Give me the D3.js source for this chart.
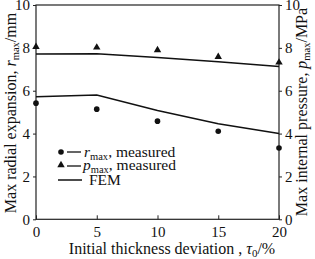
<!DOCTYPE html>
<html>
<head>
<meta charset="utf-8">
<script src="https://cdn.jsdelivr.net/npm/d3@7"></script>
<style>
  body { margin: 0; background: #fff; }
</style>
</head>
<body>
<div id="chart"></div>
<script>
// values
var tau = [0, 5, 10, 15, 20];
var rMeasured = [5.42, 5.14, 4.58, 4.11, 3.33];
var pMeasured = [8.05, 8.02, 7.9, 7.58, 7.32];
var rFem = [5.72, 5.8, 5.08, 4.46, 4.0];
var pFem = [7.71, 7.72, 7.55, 7.35, 7.13];
var xTicks = [0, 5, 10, 15, 20];
var yTicks = [0, 2, 4, 6, 8, 10];

var margin = {top: 5, right: 36, bottom: 40, left: 36},
    width = 315 - margin.left - margin.right,
    height = 214.3;

var svg = d3.select("#chart").append("svg")
    .attr("width", 315)
    .attr("height", 259);

var g = svg.append("g")
    .attr("transform", "translate(" + margin.left + "," + margin.top + ")");

var x = d3.scaleLinear().domain([0, 20]).range([0, width]);
var yL = d3.scaleLinear().domain([0, 10]).range([height, 0]);
var yR = d3.scaleLinear().domain([0, 10]).range([height, 0]);

// frame
g.append("rect")
    .attr("width", width).attr("height", height)
    .attr("fill", "none").attr("stroke", "#222").attr("stroke-width", 1.2);

var xAxis = d3.axisBottom(x).tickValues(xTicks).tickSizeInner(-4).tickSizeOuter(0).tickPadding(7);
var yAxisL = d3.axisLeft(yL).tickValues(yTicks).tickSize(3).tickPadding(3);
var yAxisR = d3.axisRight(yR).tickValues(yTicks).tickSize(3).tickPadding(3);

function styleAxis(sel) {
  sel.select(".domain").remove();
  sel.selectAll("line").attr("stroke", "#222");
  sel.selectAll("text").attr("fill", "#111").style("font-size", "15px");
}

g.append("g").attr("transform", "translate(0," + height + ")").call(xAxis).call(styleAxis);
g.append("g").call(yAxisL).call(styleAxis);
g.append("g").attr("transform", "translate(" + width + ",0)").call(yAxisR).call(styleAxis);

// FEM lines
var lineR = d3.line().x(function(d, i) { return x(tau[i]); }).y(function(d) { return yL(d); });
var lineP = d3.line().x(function(d, i) { return x(tau[i]); }).y(function(d) { return yR(d); });

g.append("path").datum(rFem).attr("d", lineR)
    .attr("fill", "none").attr("stroke", "#111").attr("stroke-width", 1.5);
g.append("path").datum(pFem).attr("d", lineP)
    .attr("fill", "none").attr("stroke", "#111").attr("stroke-width", 1.5);

// measured points
g.selectAll(".dot")
    .data(rMeasured)
  .enter().append("circle")
    .attr("class", "dot")
    .attr("r", 2.8)
    .attr("cx", function(d, i) { return x(tau[i]); })
    .attr("cy", function(d) { return yL(d); })
    .attr("fill", "#111");

var tri = d3.symbol().type(d3.symbolTriangle).size(24);
g.selectAll(".tri")
    .data(pMeasured)
  .enter().append("path")
    .attr("class", "tri")
    .attr("d", tri)
    .attr("transform", function(d, i) { return "translate(" + x(tau[i]) + "," + yR(d) + ")"; })
    .attr("fill", "#111");

// legend
var leg = svg.append("g");
leg.append("circle").attr("cx", 61).attr("cy", 152).attr("r", 2.8).attr("fill", "#111");
leg.append("line").attr("x1", 67).attr("x2", 81).attr("y1", 152).attr("y2", 152).attr("stroke", "#111").attr("stroke-width", 1.3);
leg.append("path").attr("d", tri).attr("transform", "translate(61,165)").attr("fill", "#111");
leg.append("line").attr("x1", 67).attr("x2", 81).attr("y1", 166).attr("y2", 166).attr("stroke", "#111").attr("stroke-width", 1.3);
leg.append("line").attr("x1", 58).attr("x2", 82).attr("y1", 180).attr("y2", 180).attr("stroke", "#111").attr("stroke-width", 1.5);

function labelWithSub(sel, sym, sub, rest) {
  sel.append("tspan").style("font-style", "italic").text(sym);
  sel.append("tspan").attr("dy", 3).style("font-size", "10.5px").text(sub);
  sel.append("tspan").attr("dy", -3).text(rest);
}

labelWithSub(leg.append("text").attr("x", 84).attr("y", 157).style("font-size", "15.5px").attr("fill", "#111"), "r", "max", ", measured");
labelWithSub(leg.append("text").attr("x", 83).attr("y", 170).style("font-size", "15.5px").attr("fill", "#111"), "p", "max", ", measured");
leg.append("text").attr("x", 89).attr("y", 185).style("font-size", "15.5px").attr("fill", "#111").text("FEM");

// axis titles
var xt = svg.append("text").attr("x", 172).attr("y", 254).attr("text-anchor", "middle")
    .style("font-size", "16px").attr("fill", "#111");
xt.append("tspan").text("Initial thickness deviation , ");
xt.append("tspan").style("font-style", "italic").text("τ");
xt.append("tspan").attr("dy", 3).style("font-size", "11px").text("0");
xt.append("tspan").attr("dy", -3).text("/%");

var lt = svg.append("text")
    .attr("transform", "translate(16,113) rotate(-90)")
    .attr("text-anchor", "middle").style("font-size", "16px").attr("fill", "#111");
lt.append("tspan").text("Max radial expansion, ");
labelWithSub(lt, "r", "max", "/mm");

var rt = svg.append("text")
    .attr("transform", "translate(307,112) rotate(-90)")
    .attr("text-anchor", "middle").style("font-size", "16px").attr("fill", "#111");
rt.append("tspan").text("Max internal pressure, ");
labelWithSub(rt, "p", "max", "/MPa");

// serif everywhere, set on each text and tspan
svg.selectAll("text, tspan").style("font-family", "Liberation Serif");
</script>
</body>
</html>
